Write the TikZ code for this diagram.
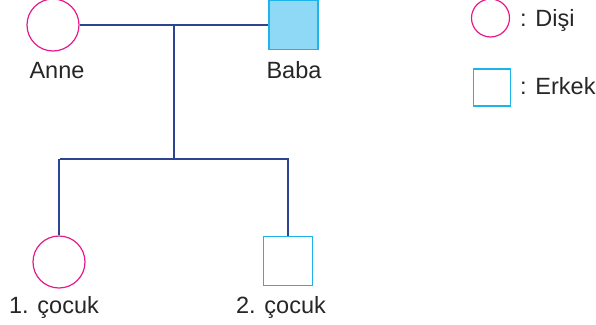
\documentclass[tikz,border=0pt]{standalone}
\usepackage{fontspec}
\setmainfont{Liberation Sans}
\definecolor{linec}{HTML}{2B4590}
\definecolor{pinkc}{HTML}{E6198A}
\definecolor{cyanc}{HTML}{1DB4EC}
\definecolor{fillc}{HTML}{8FD8F6}
\tikzset{
  fem/.style={circle,draw=pinkc,line width=1.2pt,minimum size=52pt,inner sep=0pt},
  male/.style={rectangle,draw=cyanc,line width=1.2pt,minimum size=49pt,inner sep=0pt},
  lbl/.style={anchor=base,inner sep=0pt,font=\fontsize{23.5}{25}\selectfont,text=black!85},
  conn/.style={draw=linec,line width=2pt}
}
\begin{document}
\begin{tikzpicture}[x=1pt,y=-1pt]
\useasboundingbox (0,0) rectangle (596,324);
\node[fem] (anne) at (53,25) {};
\node[male,fill=fillc] (baba) at (293.5,25) {};
\node[lbl] (tanne) at (57,78) {Anne};
\node[lbl] (tbaba) at (294,78) {Baba};
\coordinate (mid) at (174,25);
\coordinate (midb) at (174,159);
\coordinate (lt) at (60,159);
\coordinate (rt) at (288,159);
\node[fem] (c1) at (59,262) {};
\node[male] (c2) at (288,261) {};
\node[lbl] (tc1) at (54,313) {1. çocuk};
\node[lbl] (tc2) at (281,313) {2. çocuk};
\draw[conn] (anne.east) -- (baba.west);
\draw[conn] (mid) -- (midb);
\draw[conn] (c1.north |- lt) -- (c1.north);
\draw[conn] (lt) -- (rt) -- (c2.north);
\node[fem,minimum size=38pt] (lf) at (490.5,18) {};
\node[male,minimum size=37pt] (lm) at (492,87.5) {};
\node[lbl,anchor=base west] (tf) at (520,26) {: Dişi};
\node[lbl,anchor=base west] (tm) at (520,94) {: Erkek};
\end{tikzpicture}
\end{document}
